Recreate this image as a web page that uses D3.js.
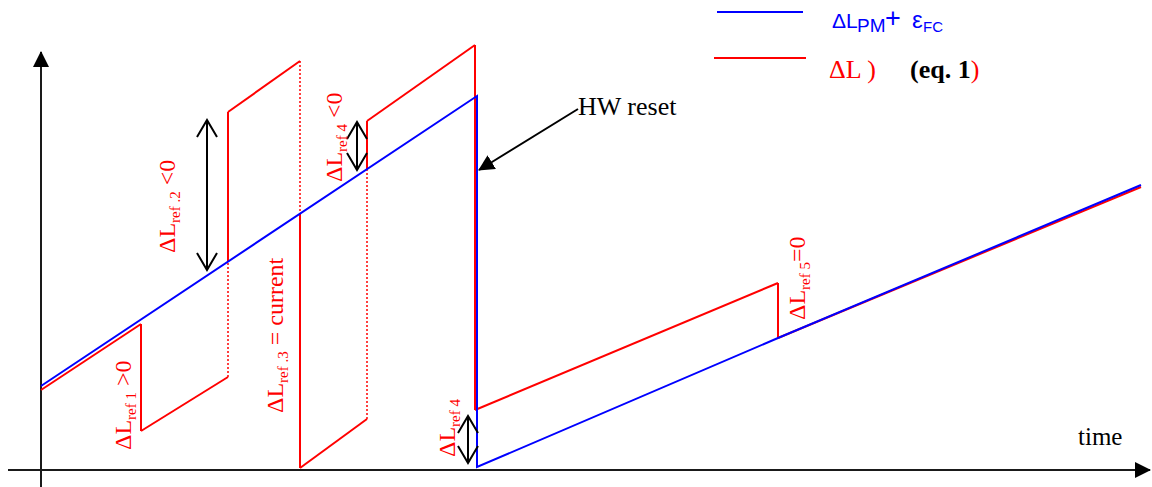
<!DOCTYPE html>
<html>
<head>
<meta charset="utf-8">
<script src="https://cdn.jsdelivr.net/npm/d3@7"></script>
<style>
  body { margin: 0; background: #fff; }
  svg { display: block; }
</style>
</head>
<body>
<script>
// blue curve: dL_PM + eps_FC  (time, value)
const blueT = [0, 43.6, 43.6, 73.7, 110];
const blueV = [8.4, 37.4, 0.3, 13.2, 28.5];

// red curve: dL (eq. 1)
const redT = [0, 10, 10, 18.7, 18.7, 18.7, 25.9, 25.9, 25.9, 32.6, 32.6, 32.6, 43.4, 43.4, 73.7, 73.7, 110];
const redV = [8.0, 14.6, 3.9, 9.3, 20.9, 35.8, 40.9, 25.7, 0.2, 5.1, 30.1, 34.9, 42.5, 6.0, 18.7, 13.2, 28.3];
// style of each segment i -> i+1 : s = solid, d = dotted
const redStyle = ["s", "s", "s", "d", "s", "s", "d", "s", "s", "d", "s", "s", "s", "s", "s", "s"];

// double headed arrows (time, from value, to value)
const dblT = [16.6, 31.6, 42.7];
const dblTop = [35.0, 34.8, 5.4];
const dblBot = [20.0, 30.0, 0.7];

// rotated red labels
const labelMain = ["\u0394L", "\u0394L", "\u0394L", "\u0394L", "\u0394L", "\u0394L"];
const labelSub = ["ref 1", "ref .2", "ref .3", "ref 4", "ref 4", "ref 5"];
const labelTail = [" >0", " <0", " = current", " <0", "", "=0"];
const labelT = [9.0, 13.4, 24.2, 30.1, 41.4, 76.4];
const labelV = [2.0, 21.7, 5.7, 28.8, 1.3, 15.0];

const W = 1152, H = 487;
const x = d3.scaleLinear().domain([0, 110]).range([41, 1141]);
const y = d3.scaleLinear().domain([0, 42.5]).range([470, 45]);

const BLUE = "#0000ff", RED = "#ff0000";
const serif = "'Liberation Serif', 'Times New Roman', serif";
const sans = "'Liberation Sans', Arial, sans-serif";

const svg = d3.select("body").append("svg")
    .attr("width", W)
    .attr("height", H);

const defs = svg.append("defs");
defs.append("marker")
    .attr("id", "tri")
    .attr("viewBox", "0 0 16 16")
    .attr("refX", 15).attr("refY", 8)
    .attr("markerWidth", 16).attr("markerHeight", 16)
    .attr("markerUnits", "userSpaceOnUse")
    .attr("orient", "auto")
    .append("path")
    .attr("d", "M0,0 L16,8 L0,16 Z")
    .attr("fill", "#000");

// axes
svg.append("line")
    .attr("x1", x(0)).attr("y1", H)
    .attr("x2", x(0)).attr("y2", 52)
    .attr("stroke", "#1a1a1a").attr("stroke-width", 2)
    .attr("marker-end", "url(#tri)");
svg.append("line")
    .attr("x1", 8).attr("y1", y(0))
    .attr("x2", 1150).attr("y2", y(0))
    .attr("stroke", "#1a1a1a").attr("stroke-width", 2)
    .attr("marker-end", "url(#tri)");

const line = d3.line().x(d => x(d[0])).y(d => y(d[1]));

// red segments
const redSegs = redStyle.map((s, i) => ({
    s: s,
    pts: [[redT[i], redV[i]], [redT[i + 1], redV[i + 1]]]
}));
svg.append("g").selectAll("path")
    .data(redSegs)
    .enter().append("path")
    .attr("d", d => line(d.pts))
    .attr("fill", "none")
    .attr("stroke", RED)
    .attr("stroke-width", d => d.s == "s" ? 2 : 1.5)
    .attr("stroke-dasharray", d => d.s == "s" ? null : "2,2");

// blue curve on top
svg.append("path")
    .datum(blueT.map((t, i) => [t, blueV[i]]))
    .attr("d", line)
    .attr("fill", "none")
    .attr("stroke", BLUE)
    .attr("stroke-width", 2);

// double arrows with open heads
const dbl = svg.append("g").attr("stroke", "#000").attr("stroke-width", 2).attr("fill", "none");
dblT.forEach((t, i) => {
    const cx = x(t), y1 = y(dblTop[i]), y2 = y(dblBot[i]);
    dbl.append("line").attr("x1", cx).attr("y1", y1).attr("x2", cx).attr("y2", y2);
    dbl.append("path").attr("d", `M${cx - 10},${y1 + 17} L${cx},${y1} L${cx + 10},${y1 + 17}`);
    dbl.append("path").attr("d", `M${cx - 10},${y2 - 17} L${cx},${y2} L${cx + 10},${y2 - 17}`);
});

// HW reset pointer
svg.append("line")
    .attr("x1", x(53.7)).attr("y1", y(36.1))
    .attr("x2", x(43.8)).attr("y2", y(30.0))
    .attr("stroke", "#000").attr("stroke-width", 2)
    .attr("marker-end", "url(#tri)");
svg.append("text")
    .attr("x", x(53.7)).attr("y", y(35.5))
    .attr("font-family", serif).attr("font-size", 26)
    .attr("fill", "#000")
    .text("HW reset");

svg.append("text")
    .attr("x", x(103.7)).attr("y", y(2.5))
    .attr("font-family", serif).attr("font-size", 25)
    .attr("fill", "#000")
    .text("time");

// rotated labels
labelMain.forEach((m, i) => {
    const t = svg.append("text")
        .attr("transform", `translate(${x(labelT[i])},${y(labelV[i])}) rotate(-90)`)
        .attr("font-family", serif).attr("font-size", 24)
        .attr("fill", RED);
    t.append("tspan").text(m);
    t.append("tspan").attr("font-size", 15).attr("dy", 5).text(labelSub[i]);
    if (labelTail[i]) t.append("tspan").attr("dy", -5).text(labelTail[i]);
});

// legend
svg.append("line").attr("x1", 717).attr("y1", 12).attr("x2", 803).attr("y2", 12)
    .attr("stroke", BLUE).attr("stroke-width", 2);
svg.append("line").attr("x1", 714).attr("y1", 58).attr("x2", 806).attr("y2", 58)
    .attr("stroke", RED).attr("stroke-width", 2);

const lg1 = svg.append("text")
    .attr("x", 832).attr("y", 28)
    .attr("font-family", sans).attr("font-size", 21)
    .attr("fill", BLUE);
lg1.append("tspan").text("\u0394L");
lg1.append("tspan").attr("x", 857).attr("font-size", 19).attr("dy", 4).text("PM");
lg1.append("tspan").attr("x", 885).attr("font-size", 27).attr("dy", -5).text("+");
lg1.append("tspan").attr("x", 912).attr("font-size", 24).attr("dy", 1).text("\u03b5");
lg1.append("tspan").attr("x", 923).attr("font-size", 15).attr("dy", 4).text("FC");

const lg2 = svg.append("text")
    .attr("x", 829).attr("y", 78)
    .attr("font-family", serif).attr("font-size", 26)
    .attr("fill", RED);
lg2.append("tspan").text("\u0394L )");
lg2.append("tspan").attr("x", 910).attr("fill", "#000").attr("font-weight", "bold").text("(eq. 1");
lg2.append("tspan").text(")");
</script>
</body>
</html>
